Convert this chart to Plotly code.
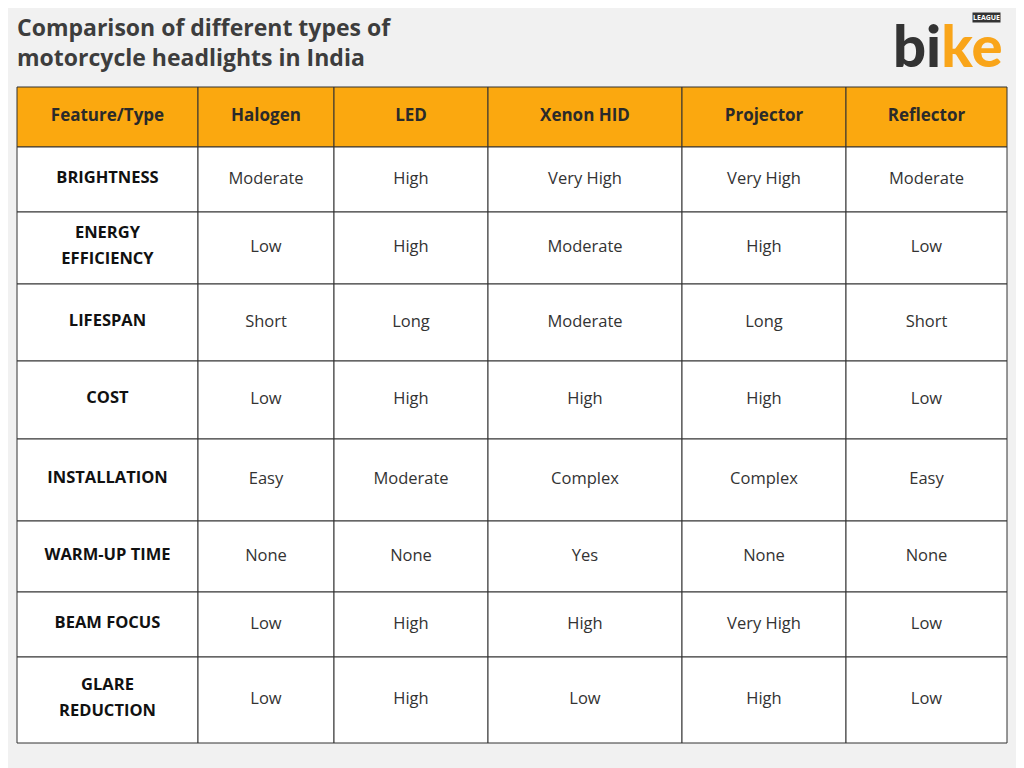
import plotly.graph_objects as go

header = ["Feature/Type", "Halogen", "LED", "Xenon HID", "Projector", "Reflector"]
features = ["BRIGHTNESS", "ENERGY<br>EFFICIENCY", "LIFESPAN", "COST", "INSTALLATION",
            "WARM-UP TIME", "BEAM FOCUS", "GLARE<br>REDUCTION"]
halogen = ["Moderate", "Low", "Short", "Low", "Easy", "None", "Low", "Low"]
led = ["High", "High", "Long", "High", "Moderate", "None", "High", "High"]
xenon = ["Very High", "Moderate", "Moderate", "High", "Complex", "Yes", "High", "Low"]
projector = ["Very High", "High", "Long", "High", "Complex", "None", "Very High", "High"]
reflector = ["Moderate", "Low", "Short", "Low", "Easy", "None", "Low", "Low"]

# layout geometry (pixels)
col_edges = [17, 198, 334, 488, 682, 846, 1007]
row_edges = [87, 147, 212, 284, 361, 439, 521, 592, 657, 743]
font = "Open Sans"
ORANGE = "#FBA80F"
LINE = "#333333"
LINE_GAP = 26

columns = [features, halogen, led, xenon, projector, reflector]
xc = [(col_edges[i] + col_edges[i+1]) / 2 for i in range(6)]
yc = [(row_edges[j] + row_edges[j+1]) / 2 for j in range(9)]

fig = go.Figure()
shapes = []
for j in range(9):
    for i in range(6):
        shapes.append(dict(type="rect", xref="x", yref="y",
                           x0=col_edges[i], x1=col_edges[i+1], y0=row_edges[j], y1=row_edges[j+1],
                           fillcolor=ORANGE if j == 0 else "white",
                           line=dict(color=LINE, width=1), layer="below"))

fig.add_trace(go.Scatter(x=xc, y=[yc[0]]*6, mode="text",
                         text=["<b>%s</b>" % h for h in header],
                         textfont=dict(family=font, size=17, color="#2a2a2a"), hoverinfo="skip"))
fx, fy, ft = [], [], []
for j, f in enumerate(features):
    lines = f.split("<br>")
    n = len(lines)
    for k, ln in enumerate(lines):
        fx.append(xc[0])
        fy.append(yc[j+1] - 1 + (k - (n - 1) / 2) * LINE_GAP)
        ft.append("<b>%s</b>" % ln)
fig.add_trace(go.Scatter(x=fx, y=fy, mode="text", text=ft,
                         textfont=dict(family=font, size=16.5, color="#111111"), hoverinfo="skip"))
for i in range(1, 6):
    fig.add_trace(go.Scatter(x=[xc[i]]*8, y=yc[1:], mode="text", text=columns[i],
                             textfont=dict(family=font, size=16.5, color="#333333"), hoverinfo="skip"))

fig.add_annotation(x=15, y=42, xref="x", yref="y",
                   text="<b>Comparison of different types of<br>motorcycle headlights in India</b>",
                   showarrow=False, xanchor="left", yanchor="middle", align="left",
                   font=dict(family=font, size=23, color="#3d3d3d"))
fig.add_annotation(x=1004, y=44, xref="x", yref="y",
                   text="<span style='color:#333333'>bi</span><span style='color:#F9A51A'>ke</span>",
                   showarrow=False, xanchor="right", yanchor="middle",
                   font=dict(family="Lato", size=58, color="#333333", weight=900))
fig.add_annotation(x=1001, y=17, xref="x", yref="y", text="<b>LEAGUE</b>",
                   showarrow=False, xanchor="right", yanchor="middle", bgcolor="#333333",
                   font=dict(family=font, size=7, color="white"), borderpad=0)

fig.update_layout(width=1024, height=768, margin=dict(l=0, r=0, t=0, b=0),
                  paper_bgcolor="#f1f1f1", plot_bgcolor="rgba(0,0,0,0)", shapes=shapes,
                  xaxis=dict(range=[8, 1032], visible=False, fixedrange=True),
                  yaxis=dict(range=[776, 8], visible=False, fixedrange=True),
                  showlegend=False)
fig.write_html("out.html")
